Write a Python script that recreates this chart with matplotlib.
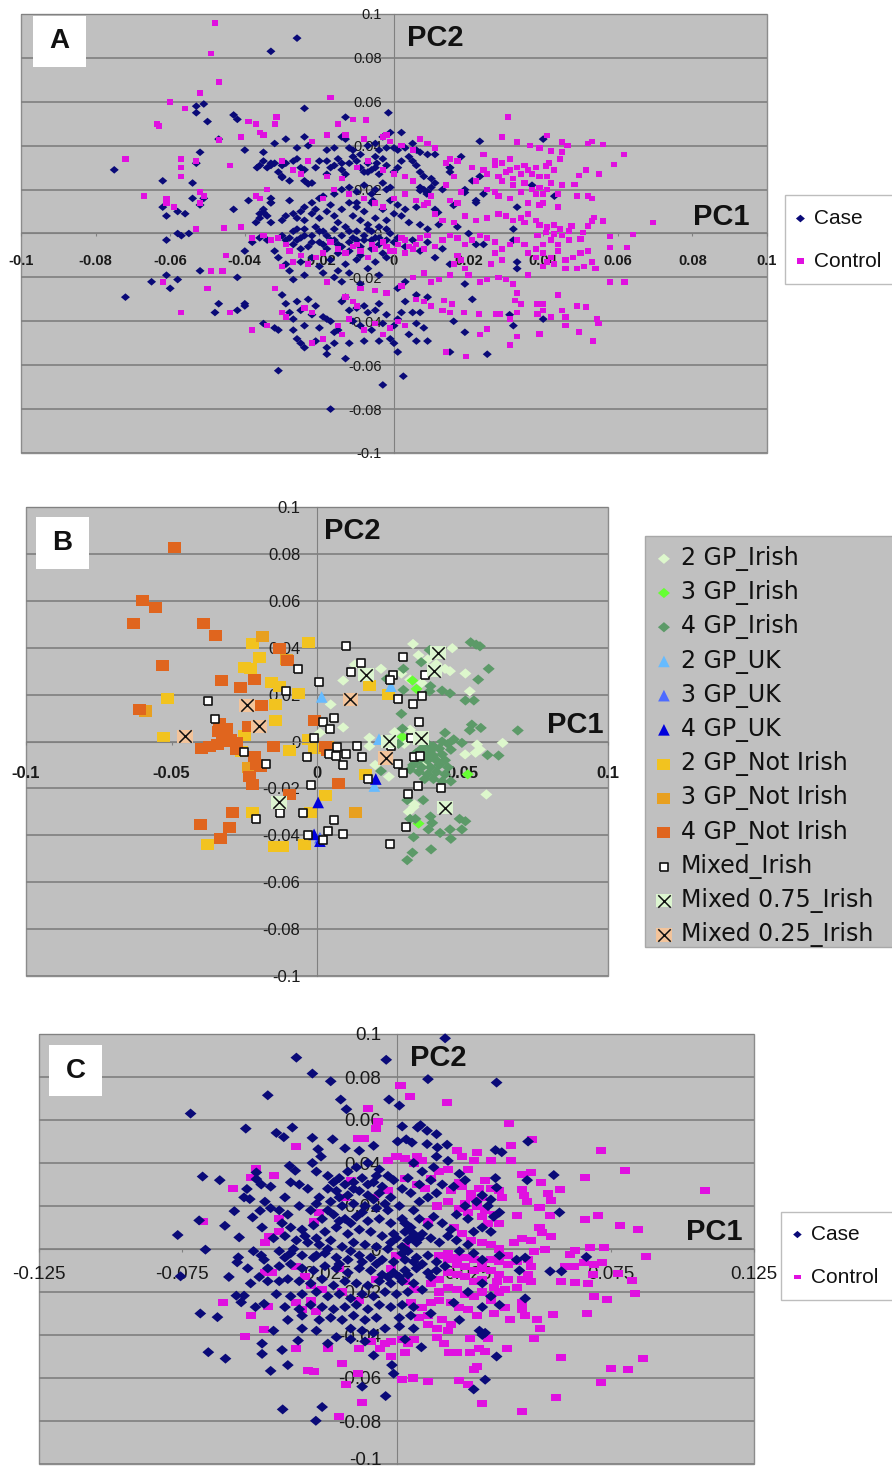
import matplotlib
matplotlib.use("Agg")
import matplotlib.pyplot as plt
import numpy as np
from matplotlib.legend_handler import HandlerTuple
from matplotlib.patches import Rectangle
from matplotlib.transforms import ScaledTranslation

plt.rcParams['font.family'] = ['Liberation Sans', 'DejaVu Sans']

# all points are (PC1, PC2), in thousandths
a_case = [
(-26,89),(-33,83),(-24,57),(-51,59),(-53,58),(-53,55),(-50,51),(-43,54),(-42,52),(-13,53),(-1.5,55),(-47,43),
(-52,37),(-53,32),(-75,29),(-62,24),(-54,23),(-62,12),(-61,8),(-58,10),(-56,9),(-54,16),(-51,16),(-52,13),
(-43,11),(-39,15),(-61,-3),(-58,0),(-57,-1),(-55,0),(-52,-17),(-61,-19),(-65,-22),(-58,-21),(-60,-25),(-72,-29),
(-47,-32),(-48,-36),(-42,-35),(-40,-32),(-40,-33),(-42,-20),(-31,-62.5),(-17,-80),(-3,-69),(2.5,-65),(-18,-55),(-13,-57),
(15,-54),(25,-55),(32,-42),(19,-45),(21,-30),(16,-40),(40,43),(23,42),(18,35),
(-40,38),(-35,37),(-32,41),(-29,43),(-26,39),(-24,44),(-23,40),(-18,38),(-16,39),(-14,44),(-13,43),(-12,39),(-11,38),
(-9,36),(-7,40),(-5,41),(-3,44),(-1,46),(2,46),(-4,38),(-2,39),(0,39),(1,38),(3,39),(5,41),(6,38),(7,37),(9,36),(11,36),
(-36,31),(-35,33),(-34,30),(-33,32),(-32,32),(-30,31),(-29,32),(-31,28),(-30,26),(-28,24),(-27,33),(-26,34),(-25,30),
(-24,29),(-24,24),(-22,23),(-21,30),(-20,33),(-18,33),(-17,30),(-16,31),(-15,34),(-14,32),(-14,29),(-13,27),(-12,32),
(-11,35),(-10,33),(-9,30),(-8,28),(-7,32),(-6,29),(-5,35),(-5,30),(-4,27),(-3,34),(-2,31),(0,28),(1,30),(2,33),(4,35),
(5,33),(6,31),(7,28),(8,26),(10,25),(10,21),(11,23),(7,21),(8,20),(9,19),(13,20),(19,20),(21,24),(23,26),(24,18),(22,15),
(15,28),(15,30),(-3,23),(-2,20),(-1,21),(-5,20),(-8,22),(-6,18),(-10,19),(-12,21),(-14,20),(-16,18),(-19,17),(-20,16),
(-22,14),(-24,12),(-25,10),(-28,15),(-33,16),(-33,14),(-35,11),(-36,9),(-36,7),(-37,5),(-34,8),(-33,5),(-30,6),(-29,8),
(-27,9),(-26,7),(-24,6),(-22,9),(-21,11),(-20,7),(-18,10),(-17,13),(-16,8),(-15,5),(-14,11),(-12,14),(-11,8),(-10,12),
(-9,6),(-8,10),(-7,4),(-6,14),(-5,7),(-4,3),(-3,11),(-2,6),(-1,15),(0,9),(1,13),(2,8),(3,11),(4,5),(6,12),(7,4),(9,2),
(11,11),(12,4),(17,3),(20,0),(22,-5),(24,-5),(-40,-8),(-38,-4),(-36,-2),(-34,-3),(-32,-8),(-31,-11),(-30,-1),(-28,-2),
(-27,1),(-26,-3),(-25,-2),(-24,2),(-23,-6),(-22,-1),(-21,3),(-20,-4),(-19,1),(-18,-7),(-17,-3),(-16,2),(-15,-5),(-14,-1),
(-13,3),(-12,-8),(-11,-2),(-10,1),(-9,-6),(-8,-3),(-7,2),(-6,-7),(-5,-2),(-4,-5),(-3,-9),(-2,-3),(-1,0),(1,-2),(3,-6),
(5,-3),(7,-8),(9,-4),(11,-11),(13,-7),(15,-14),(-29,-14),(-28,-17),(-27,-21),(-25,-13),(-24,-19),(-22,-11),(-20,-15),
(-19,-18),(-17,-12),(-16,-20),(-15,-17),(-14,-22),(-13,-14),(-12,-18),(-10,-12),(-9,-23),(-7,-16),(-5,-13),(-4,-19),
(-2,-11),(1,-25),(3,-22),(6,-28),(9,-29),(19,-23),(33,-13),(33,-16),(32,-3),(32,2),(33,12),(-30,-28),(-29,-32),(-28,-36),
(-27,-39),(-26,-31),(-25,-35),(-24,-42),(-23,-30),(-22,-37),(-21,-33),(-20,-43),(-19,-38),(-18,-39),(-17,-40),(-16,-45),
(-15,-44),(-14,-31),(-13,-29),(-12,-35),(-11,-40),(-10,-34),(-9,-42),(-8,-33),(-7,-36),(-6,-44),(-5,-35),(-4,-32),(-3,-41),
(-2,-37),(-1,-48),(0,-42),(1,-39),(2,-36),(3,-31),(4,-46),(5,-36),(6,-41),(7,-36),(8,-43),(9,-49),(-35,-41),(-32,-43),
(-31,-44),(-27,-44),(-26,-48),(-25,-50),(-24,-52),(-21,-49),(-18,-52),(-16,-50),(-12,-50),(-8,-49),(-4,-49),(0,-50),(1,-54),(6,-49),
(40,-39),(31,-37),(37,22),(43,17),
(-36.7,30),(-33,31),(-30,25.5),(-33,14),(-35,9.6),(-23,22.6),(-18,27),(-7,28),(-4.6,32),(-10,14),(-5.6,15),(7,19.6),(8.8,18),(11.8,9.6),(15,30),
(19,18.7),(22,14),(16,12.8),(-26,2),(-24,-1),(-22,-4),(-20,1),(-18,-1),(-16,-3),(-14,-6),(-12,-4),(-12,1),(-10,-3),(-8,-1),(-6,1),(-4,-2),(-2,2),(0,-4),
(-27,-5),(-29,-3),(-25,-7),(-19,-5),(-15,-9),(-9,-10),(-6,-3),
]
a_control = [
(-48,96),(-49,82),(-47,69),(-52,64),(-60,60),(-56,57),(-63.5,50),(-63,49),(-72,34),(-57,34),(-53,33),(-57,30),(-57,26),
(-67,17),(-61,16),(-61,14),(-59,12),(-52,19),(-51,17),(-52,14),(-53,2),(-45.5,2.5),(-44,31),(-47,42.5),(-41,44),(-39,51),
(-37,50),(-31.5,53),(-32,50),(-36,46),(-35,45),(-17,62),(-11,52),(-7.5,51.6),(-15,50),(30.5,53),(29,44),(33,41.6),(36.5,40),
(39,39),(41,44.6),(45,41.6),(46.5,40),(52,41),(53,42),(56,40.5),(61.7,36),(59,31.5),(55,27),(51.5,29),(49.5,26.5),(48.4,22.4),
(45,22),(44.6,34),(45,37),(42,37.5),(41.5,32),(40.8,30.7),(69.5,5),(64,-0.5),(62.4,-6.4),(58,-22),(61.8,-22),(58,-6.4),(58,-1.4),
(56,5.7),(53.7,7.3),(53,5.7),(52,3.5),(50.7,.5),(50,-2.6),(47.6,3.5),(47,1.2),(44.6,2),(43,-.3),(40.8,.5),(38.5,-1),
(54.5,-39),(54.8,-41),(53.4,-49),(49.6,-45),(49,-33),(51.5,-33.6),(46,-38),(46,-42),(45,-35),(44,-28),(42,-38),(40,-32),(38.5,-32),
(40,-35),(38.5,-36.6),(39,-45.7),(33,-47),(31,-50.7),(25,-43.4),(23,-46),(19.4,-56),(14,-54),(28.5,-36.6),(27.3,-36.6),(31,-39),
(33,-36),(32.4,-30.5),(34,-32),(22.7,-36.6),(18.8,-36),(15,-36),(15.6,-32),(13.3,-30.5),
(24,29),(25,27),(27,31),(28,26),(29,24),(29,32),(30,28),(31,34),(31,29),(32,25),(32,22),(33,30),(34,27),(34,19),(35,31),(35,23),
(36,29),(37,27),(37,20),(38,30),(38,18),(39,26),(39,21),(40,18),(41,20),(41,26),(42,23),(43,29),(44,18),(25,20),(27,19),(28,17),
(31,16),(36,14),(39,13),(40,14),(44,12),(49,17),(52,17),(53,16),(24,36),(27,33),(21,30),(22,24),(17,33),(15,34),(11,39),(9,41),(7,43),
(-1,42),(-2,45),(-3,44),(2,40),(5,38),(-8,43),(-13,45),(-18,45),(-22,42),(14,32),(14,22),(15,15),(17,14),(18,19),(16,26),(9,14),(10,17),
(5,24),(3,26),(0,27),(-3,29),(-7,33),(-10,30),(-14,25),(-18,26),(-23,33),(-27,29),(-25,27),(-30,33),(-34,20),(-37,17),(-36,16),
(-19,16),(-16,20),(-12,18),(-8,16),(-5,14),(-3,12),(0,16),(3,18),(6,15),(8,13),(11,9),(13,6),(16,5),(19,8),(22,6),(25,7),(28,9),(30,8),
(32,6),(34,7),(35,5),(36,9),(38,6),(39,4),(41,3),(43,4),(45,-1),(47,-3),(44,-5),(42,-3),(40,-5),(38,-7),(40,-9),(42,-11),(44,-8),
(46,-12),(48,-11),(50,-9),(52,-8),(53,-13),(54,-16),(51,-15),(49,-16),(46,-16),(43,-14),(40,-15),(41,-13),(38,-11),(36,-9),(35,-5),
(33,-3),(31,-5),(29,-7),(27,-9),(29,-12),(26,-14),(27,-4),(25,-2),(23,-1),(21,-3),(19,-5),(17,-2),(15,-1),(13,-3),(11,-6),(9,-1),
(7,-2),(5,-7),(3,-3),(1,-5),(-1,-8),(-3,-4),(-5,-7),(-7,-11),(-9,-8),(-11,-6),(-13,-9),(-15,-7),(-17,-4),(-19,-9),(-21,-11),(-23,-14),
(-25,-10),(-27,-13),(-29,-5),(-31,-2),(-33,-3),(-35,-1),(-38,-2),(-41,3),(-46,-17),(-45,-10),(-32,-25),(-30,-15),(-28,-8),
(17,-10),(16,-14),(18,-12),(19,-16),(15,-19),(20,-19),(23,-22),(25,-21),(28,-20),(30,-21),(32,-23),(36,-19),(33,-27),(12,-21),(10,-22),
(8,-18),(5,-20),(2,-24),(-2,-27),(-5,-26),(-9,-25),(-11,-31),(-13,-29),(-18,-22),(-29,-38),(-30,-36),(-38,-44),(-34,-42),(-22,-50),
(-19,-48),(-15,-42),(-14,-46),(-12,-39),(-8,-44),(-5,-41),(-3,-46),(-1,-43),(1,-40),(3,-42),(-10,-33),(-24,-34),(-22,-36),(-44,-36),(-57,-36),(-50,-25),(-49,-17),(-62,-22),
(10,-33),(13,-35),(8,-31),(6,-30),(2,-2),(4,-6),(-2,-6),(-6,-5),(-10,-5),(0,-8),(3,-9),(6,-5),(8,-7),
]
b_ir2 = [(33,41.6),(46.5,39.8),(34.9,36.8),(9,26),(13,32.8),(22,31),(32,26.4),(45.7,30),(44,31),(51,29),(52.5,21.4),(4.7,15.8),(9,6),
(18,1.6),(18,-2),(26.7,4),(1,3.7),(32,5),(55,-1.3),(56,-3.4),(54.5,-4.8),(63.8,-.6),(50.9,-5.5),(58.2,-22.6),(24.7,-15),(20,-10),
(33.5,-26.8),(31.5,-30),(33.2,-28),(29,29),(36,25),(38,35),(41,33),(30,-1),(36,-10)]
b_ir3 = [(32.8,26),(34.2,22.4),(29.4,2),(51.8,-14),(34.9,-35)]
b_ir4 = [(52.8,42.3),(54.7,41.3),(56,40.6),(59,31),(55.4,26.4),(38.7,39),(35.8,33.8),(29.7,31),(24,26.7),(29.7,22),(39,23.6),(38.7,21.4),
(43,21.7),(45.7,20.5),(51,17.5),(53.9,17.5),(29,11.8),(29.4,5.5),(53.2,7.2),(52.5,4.8),(56.3,5.8),(69,4.7),(44,3.7),(47,.9),(49.8,-.6),
(58.6,-5.8),(62.4,-6),(36.5,-25),(39,-32),(33.8,-33),(39.6,-34.7),(38.3,-37.5),(42.3,-39),(46,-41.5),(45.7,-37.5),(49,-33),(51,-34),
(49.8,-37.5),(33.2,-40.8),(39.2,-46),(32.8,-47.4),(31,-50.6),(22,-12.6),(38,-1),(40,-2),(43,0),(45,-1),(36,-3),(39,-4),(42,-3),(46,-3.5),
(34,-5),(37,-6),(40,-6),(43,-5.5),(35,-8),(38,-8),(41,-8),(44,-8),(33,-10),(36,-11),(39,-11),(42,-10),(45,-11),(35,-13),(38,-14),(41,-13),
(44,-14),(37,-16),(40,-16),(43,-17),(46,-17),(32,-12),(31,-25),(32,-33),(28,-1)]
b_uk2 = [(1.6,19),(21.3,1),(19.7,-19),(25.4,23.6)]
b_uk3 = [(1,-41)]
b_uk4 = [(20.2,-16),(.4,-26),(-1,-39.6),(1,-42.5)]
b_no2 = [(-3,42.3),(-22,41.8),(-19.7,35.7),(-25,31.7),(-22.8,31),(-51.3,18.2),(-15.6,25),(-13,23.6),(-14.2,15.8),(-6.5,20.5),(-14.4,9),
(-52.8,1.8),(-24.8,2.6),(-2.8,1),(-.8,-3),(-9.5,-4),(-26,-4.4),(-23.5,-11),(16.5,-14),(3,-23),(18,24),(24.7,20),(-22,-30.4),(-2.4,-30.4),
(-37.7,-44),(-14.6,-44.6),(-12,-44.6),(-4.3,-44)]
b_no3 = [(-18.7,44.7),(-58.8,13),(13.2,-30.4),(-10.6,35),(3.7,-2),(-23.5,-11)]
b_no4 = [(-49,82.7),(-60,60),(-55.6,57),(-63,50.4),(-39,50.4),(-35,45.3),(-53,32.5),(-32.7,26),(-26.3,23),(-21.4,26.4),(-61,13.6),(-19,15.3),
(-10,34.6),(-13,39.5),(-1,9),(-33.6,7.5),(-31,5.4),(-34,4.4),(-23.5,6.2),(-39.8,-3),(-37,-2),(-34.3,-1.3),(-32.3,0),(-29.6,.8),(-27.5,-.6),
(-27.5,-3.4),(-21.4,-6.2),(-20.8,-9.8),(-19.4,-10.5),(-23.2,-14.8),(-22,-18.3),(-14.8,-2.3),(3,-2),(3.7,-4),(7.5,-18),(-29,-30.4),(-40,-35.5),
(-30,-36.5),(-33,-41.3),(-9.5,-22.6)]
b_mixed = [(9.8,40.6),(15,33.5),(29.7,36),(-6.5,31),(11.8,29.5),(.7,25.3),(26.2,28.3),(25,26.4),(37,28.3),(-10.6,21.7),(-37.3,17.2),(28,18.3),
(36.2,19.3),(33,15.8),(-35,9.4),(6,10),(2,8.4),(4.3,5.4),(35,8.2),(-1,1.3),(32.4,1.3),(7,-2.4),(13.6,-2),(-25,-4.4),(4,-5.5),(6.6,-6.2),
(10,-5.5),(15.6,-6.5),(-3.5,-6.8),(33.2,-6.5),(35.5,-6),(25.6,-2),(-17.5,-9.5),(9,-10),(27.8,-9.5),(29.4,-13.4),(17.5,-16.2),(-1.9,-18.5),
(34.6,-18.9),(42.6,-19.7),(31.3,-22.3),(-4.9,-30.4),(-12.8,-30.4),(-21,-33),(6,-33.5),(3.8,-38.2),(8.8,-39.5),(-3.1,-40),(1.9,-42),(25,-43.8),(30.7,-36.4)]
b_mix75 = [(-13,-26),(16.8,28.5),(24.7,.1),(35.8,1.5),(40.3,30.2),(41.6,37.8),(44,-28.3)]
b_mix25 = [(-45.3,2.3),(-24,15.5),(-20,6.5),(11.5,18),(23.6,-7)]
c_case = [
(17,98),(-35,89),(-3.6,88),(-29.4,81.6),(-23,78),(11,79),(35,77.4),(-45,71.5),(-19.5,69.5),(-2.6,69.5),(1,66.7),(-17.5,65),(-72,63),
(-52.7,56),(-36.4,56.5),(-42,54),(-39.4,52),(-29.4,51.7),(-22.3,51),(2,57),(8.4,57.6),(7.4,56.5),(10.7,55),(14,53.4),(3.4,51),(.4,50),
(5.4,49.5),(10.7,48.8),(14.3,47.2),(17.7,48.5),(46,50),(34.6,46),(36.8,45),(-8,48),(-18,46.8),(-13,45.7),(-27.4,46.4),(-26.4,43),(-29.4,40),
(-37.4,38.7),(-35.4,36.4),(-67.8,33.7),(-61.8,32),(-49,35.6),(-49,32.5),(-47.3,30),(-52.3,27.9),(-53.3,24),(-51.3,23.2),(55,34.4),(45.7,32),
(57,17),(34.6,33),(35,28.6),(-76.5,6.5),(-69,13.3),(-60,10.8),(-55,5.4),(-66.8,-.3),(-56.7,17.6),(-50.3,14.7),(-47.7,17.8),(-75.5,-12.7),
(-58.6,-13),(-55.3,-3.9),(-55.7,-6.2),(-47.3,-3),(-46.3,-5),(-68.6,-30),(-62.6,-31.7),(-56,-21.7),(-53.3,-21.7),(-54.3,-24.8),(-49.3,-27),
(-46.3,-25.5),(-65.8,-48),(-59.8,-51),(-47,-44),(-47,-48.8),(-40,-47),(-34.4,-42.6),(-44,-56.7),(-38,-54),(-39.8,-74.6),(-26,-73.5),(-28.2,-79.9),
(-3.8,-68.4),(-12,-64),(-1.6,-54),(-1,-58),(-8,-49.5),(31,-60.8),(27,-65.3),(35,-50),(8.7,-45.7),(30,-40),(29,-38),(31,-39),(53.7,-10.4),(57.7,-10.4),(66.4,-3.7),
(-28,36),(-24,34),(-20,33),(-17,36),(-14,38),(-10,40),(-6,37),(-3,34),(-18,30),(-15,31),(-12,33),(-8,31),(-5,29),(-1,32),(-24,28),(-21,27),(-17,25),
(-13,27),(-10,25),(-6,26),(-2,24),(-34,30),(-31,28),(-27,24),(-23,22),(-19,20),(-15,21),(-11,20),(-7,19),(-3,18),(1,20),(-41,18),(-38,16),(-34,20),
(-30,18),(-26,14),(-22,16),(-18,14),(-14,15),(-10,13),(-6,14),(-2,12),(2,14),(6,18),(8,14),(11,11),(13,15),(16,12),(19,9),(-40,12),(-37,10),(-33,9),(-29,11),
(-25,8),(-21,10),(-17,7),(-13,9),(-9,8),(-5,6),(-1,7),(3,8),(5,5),(7,3),(9,7),(12,5),(15,3),(18,6),(21,4),(-43,5),(-39,6),(-35,4),(-31,3),(-27,2),(-23,4),
(-19,1),(-15,3),(-11,2),(-7,1),(-3,0),(2,1),(4,-1),(-41,-1),(-37,-2),(-33,-3),(-29,-4),(-25,-2),(-21,-4),(-17,-5),(-13,-3),(-9,-4),(-5,-5),(-1,-6),(3,-5),
(7,-4),(11,-3),(14,-6),(17,-8),(-45,-9),(-41,-8),(-37,-7),(-33,-9),(-29,-10),(-25,-8),(-21,-9),(-17,-11),(-13,-9),(-9,-10),(-5,-12),(-1,-11),(3,-10),(7,-9),
(11,-11),(14,-10),(12,-13),(-41,-15),(-38,-14),(-34,-15),(-30,-16),(-26,-14),(-22,-17),(-18,-15),(-14,-16),(-10,-17),(-6,-15),(-2,-16),(2,-15),(6,-16),(9,-19),
(-42,-21),(-37,-22),(-33,-21),(-28,-20),(-24,-22),(-20,-21),(-16,-23),(-12,-21),(-8,-22),(-4,-20),(0,-21),(4,-20),(-39,-27),(-34,-28),(-30,-26),(-26,-27),
(-22,-28),(-18,-27),(-14,-26),(-10,-28),(-6,-26),(-2,-27),(2,-26),(6,-27),(-38,-33),(-33,-31),(-27,-33),(-23,-32),(-19,-33),(-15,-31),(-11,-33),(-7,-32),(1,-32),
(5,-31),(12,-30),(22,-33),(-43,-38),(-33,-37),(-28,-38),(-16,-37),(-12,-38),(-8,-39),(-4,-37),(1,-36),(6,-37),(-24,-44),(-21,-41),(-16,-42),(-11,-43),(3,-42),
(20,-25),(25,-20),(30,-16),(36,-26),(30,-27),(33,-22),(45,-23),(43,-10),(45,-4),(42,-5),(36,-3),(30,-5),(27,-2),(25,2),(22,-1),(33,8),(34,15),(30,10),
(27,8),(25,14),(36,17),(32,20),(28,22),(24,20),(21,16),(30,25),(33,23),(14,26),(11,24),(8,22),(5,26),(2,28),(16,30),(12,32),(8,30),(4,33),(20,29),(24,32),
(13,38),(9,36),(6,40),(18,41),(14,43),(22,35),(-28,-3),(-44,19),(-44,29),(-39,24),(-37,31),(-46,22),(-47,10),(-45,-15),(-48,-13),(-52,-9),(-50,-1),(-51,-16),
(4,4),(6,7),(8,5),(5,10),(3,12),(0,5),(-2,3),(2,-2),(6,-6),(9,-7),(4,-12),(1,-13),(-3,-13),(-7,-7),(-12,-6),(-16,-1),(-20,-7),(-24,0),(-28,5),(-32,6),(-36,0),(-39,-4),
(-16,12),(-20,13),(-24,18),(-28,21),(-12,17),(-8,23),(-4,21),(-20,24),(-15,28),(-10,30),(-22,31),(-7,34),
]
c_control = [
(1.4,75.9),(4.8,70.9),(17.7,68),(-10,65.5),(-6.6,59.3),(-7,56),(39.4,58.5),(-13.5,51.4),(-11.5,51.4),(47.5,50.8),(40,48),(-35,47.7),(71.6,46),
(80,36.5),(66,33.4),(107.8,27),(57,27.8),(53,26),(54,22.4),(50,19.3),(44,34.8),(47,35.6),(50.5,31),(44,27.5),(44.5,24.8),(45.7,22),(42,15.5),(53.7,15.5),
(66,13.6),(70.4,15.8),(78,10.8),(84.5,9),(50,10),(51,7.7),(54,5.7),(67.6,.5),(72.6,.5),(62.4,-.8),(60.6,-2.6),(52,-.3),(87.3,-3.6),(59,-8.2),(62,-8.2),
(65.6,-6.2),(69,-7),(72,-6.5),(77.5,-11.6),(68.6,-12),(82.3,-14.7),(57.6,-15),(62.4,-15.8),(67,-16),(83.3,-20.9),(69,-22),(73.6,-23.7),(66.6,-30),(54.7,-30.3),
(49,-33),(50.3,-37),(48,-41.8),(39.6,-33),(38.8,-46.4),(57.6,-50.3),(86.3,-51),(75,-55.4),(81,-56),(71.6,-62),(55.7,-69),(30,-71.7),(44,-75.4),(-12,-71.4),
(-20,-77.9),(-17.5,-63),(-13.3,-58),(-30.8,-56.5),(-28.8,-57),(-19,-53.4),(1.8,-60.7),(5.8,-60),(11,-61.6),(22,-61),(25,-62.8),(27,-56),(28,-54.5),
(18.3,-48),(21,-48),(25.8,-48),(29,-46.4),(31,-47.5),(16.7,-44),(25.8,-41.8),(32,-41.8),(-53,-40.7),(-46.3,-37.6),(-51,-31),(-60.6,-25),(-35,-25),(-45,-26.6),
(-49,37.5),(-51,33.3),(-42.7,34),(-57,28),(-67.8,13),(-41,14),(-44.7,6),(-46,2.8),(-41,8),(-46,-10.8),(-43.7,-10.8),(-35,-46.4),(-24,-46.4),(-13,-46.4),(-5.6,-46.4),
(-2,-50),(3,-48),(-4,-44),(-2,-43),(2,-42),(4,-44),(6,-42),(-9,-43),
(-3,41),(0,43),(3,42),(6,40),(7,43),(9,41),(21,46),(23,43),(28,45),(27,41),(33,41),(40,41),(25,37),(31,32),(22,31),(18,37),(15,36),(12,33),(19,27),(23,29),(26,26),
(29,28),(26,24),(24,21),(30,24),(28,20),(33,28),(36,27),(37,24),(31,18),(34,16),(36,12),(32,12),(30,15),(25,17),(22,19),(18,22),(14,20),(10,28),(7,30),(3,33),(-3,27),
(-8,24),(-16,32),(-18,24),(-27,17),(-29,13),(-20,-9),(-35,-8),(-32,-13),(-30,-17),(-26,-19),(-30,-24),(-28,-29),(-33,-28),(-19,-20),(-13,-24),(-7,-14),
(20,10),(23,7),(26,4),(30,3),(33,2),(36,0),(39,-3),(41,3),(44,5),(47,4),(48,-1),(46,-5),(47,-8),(46,-12),(44,-14),(47,-15),(42,-6),(39,-7),(36,-6),(33,-5),(30,-7),(27,-5),
(24,-4),(21,-4),(18,-2),(15,-3),(18,-5),(21,-7),(24,-8),(27,-10),(30,-9),(33,-10),(36,-12),(39,-14),(42,-18),(38,-19),(35,-15),(36,-20),(34,-18),(30,-14),(27,-15),(24,-13),
(21,-12),(18,-11),(15,-14),(12,-16),(15,-20),(18,-18),(21,-19),(24,-21),(27,-22),(30,-20),(33,-24),(44,-25),(44,-28),(45,-31),(38,-27),(34,-30),(28,-31),(25,-28),(22,-27),
(19,-25),(15,-24),(12,-25),(9,-27),(5,-25),(8,-32),(11,-35),(14,-37),(16,-33),(18,-38),(19,-35),(14,-41),(11,-31),(6,-19),(3,-15),(-2,-9),(0,-3),(3,1),(7,6),(11,13),
]

panel_a_pos = (21, 14, 767, 453)
panel_b_pos = (26, 507, 608, 976)
panel_c_pos = (39, 1034, 754, 1464)
W, H = 892, 1468
GRAY = '#c0c0c0'
GRID = '#7f7f7f'
TXT = '#1a1a1a'
NAVY = '#0a0a78'
MAG = '#e010e0'

fig = plt.figure(figsize=(W/100, H/100), dpi=100, facecolor='white')


def diamond(r):
    return [(-1, 0), (0, r), (1, 0), (0, -r), (-1, 0)]


def box(r):
    return [(-1, -r), (1, -r), (1, r), (-1, r), (-1, -r)]


def make_axes(pos, xt, xl, x_lim, size, xweight, xpad, ypad):
    l, t, r, b = pos
    ax = fig.add_axes([l/W, 1-b/H, (r-l)/W, (b-t)/H])
    ax.set_facecolor(GRAY)
    ax.set_xlim(-x_lim, x_lim)
    ax.set_ylim(-0.1, 0.1)
    ax.set_axisbelow(True)
    for s in ('top', 'right'):
        ax.spines[s].set_visible(False)
    for s in ('left', 'bottom'):
        ax.spines[s].set_position('zero')
        ax.spines[s].set_color('#808080')
        ax.spines[s].set_linewidth(0.8)
    ax.patch.set_edgecolor('#8c8c8c')
    ax.patch.set_linewidth(1.0)
    yt = [-0.1, -0.08, -0.06, -0.04, -0.02, 0, 0.02, 0.04, 0.06, 0.08, 0.1]
    ax.set_yticks(yt)
    ax.set_yticklabels(['-0.1', '-0.08', '-0.06', '-0.04', '-0.02', '0', '0.02', '0.04', '0.06', '0.08', '0.1'])
    ax.set_xticks(xt)
    ax.set_xticklabels(xl)
    ax.grid(axis='y', color=GRID, linewidth=1.2)
    ax.tick_params(axis='y', length=0, pad=ypad, labelsize=size, labelcolor=TXT)
    ax.tick_params(axis='x', length=2.5, color='#808080', pad=xpad, labelsize=size, labelcolor=TXT)
    for t_ in ax.get_xticklabels():
        t_.set_fontweight(xweight)
    return ax


def plot(ax, pts, marker, size, color, label, z, edge='none', lw=0.0):
    p = np.array(pts) / 1000.0
    return ax.scatter(p[:, 0], p[:, 1], marker=marker, s=size, c=color, edgecolors=edge,
                      linewidths=lw, label=label, zorder=z, clip_on=False)


def tag(px, py, txt, size):
    fig.text(px/W, 1-py/H, txt, fontsize=size, fontweight='bold', color='#111111',
             ha='center', va='center', zorder=10)


def panel_box(l, t, r, b, face, edge='none'):
    # sits behind the axes, the frameless legends draw on top of it
    fig.add_artist(Rectangle((l/W, 1-b/H), (r-l)/W, (b-t)/H, transform=fig.transFigure,
                             facecolor=face, edgecolor=edge, linewidth=1.0, zorder=-1))


def letter(l, t, r, b, txt):
    fig.add_artist(Rectangle((l/W, 1-b/H), (r-l)/W, (b-t)/H, transform=fig.transFigure,
                             facecolor='white', edgecolor='none', zorder=9))
    tag((l+r)/2, (t+b)/2, txt, 20)


def small_legend(ax, handles, px, py):
    ax.legend(handles=handles, loc='upper left', bbox_to_anchor=(px/W, 1-py/H), bbox_transform=fig.transFigure,
              borderaxespad=0, borderpad=0, fontsize=15, labelspacing=1.14, handletextpad=0.15,
              handlelength=1.0, frameon=False, labelcolor='#111111')


# panel A
panel_box(785, 195, 900, 284, 'white', '#bdbdbd')
ax_a = make_axes(panel_a_pos, [-0.1, -0.08, -0.06, -0.04, -0.02, 0, 0.02, 0.04, 0.06, 0.08, 0.1],
                 ['-0.1', '-0.08', '-0.06', '-0.04', '-0.02', '0', '0.02', '0.04', '0.06', '0.08', '0.1'],
                 0.1, 10.5, 'bold', 12, 9)
h1 = plot(ax_a, a_case, diamond(0.85), 42, NAVY, 'Case', 3)
h2 = plot(ax_a, a_control, box(0.9), 20, MAG, 'Control', 4)
small_legend(ax_a, [h1, h2], 790, 209)
letter(33, 16, 86, 67, 'A')
tag(435, 38, 'PC2', 21)
tag(721, 217, 'PC1', 21)

# panel B
panel_box(645, 536, 900, 947, GRAY, '#a8a8a8')
ax_b = make_axes(panel_b_pos, [-0.1, -0.05, 0, 0.05, 0.1], ['-0.1', '-0.05', '0', '0.05', '0.1'],
                 0.1, 12, 'bold', 15, 12)
hb = [
    plot(ax_b, b_ir2, diamond(0.85), 75, '#ddf7cc', '2 GP_Irish', 3),
    plot(ax_b, b_ir3, diamond(0.85), 75, '#66ff33', '3 GP_Irish', 4),
    plot(ax_b, b_ir4, diamond(0.85), 75, '#5c9a68', '4 GP_Irish', 5),
    plot(ax_b, b_uk2, '^', 70, '#66bbff', '2 GP_UK', 6),
    plot(ax_b, b_uk3, '^', 70, '#4d6bff', '3 GP_UK', 7),
    plot(ax_b, b_uk4, '^', 70, '#0000dd', '4 GP_UK', 8),
    plot(ax_b, b_no2, box(0.85), 88, '#f2c31f', '2 GP_Not Irish', 2.5),
    plot(ax_b, b_no3, box(0.85), 88, '#e8a020', '3 GP_Not Irish', 2.6),
    plot(ax_b, b_no4, box(0.85), 88, '#e0651e', '4 GP_Not Irish', 2.7),
    plot(ax_b, b_mixed, box(0.9), 38, 'white', 'Mixed_Irish', 9, edge='#111111', lw=1.2),
]
# crossed markers sit on a pale square
s75 = plot(ax_b, b_mix75, box(0.85), 125, '#dcf5d0', None, 9.5)
s25 = plot(ax_b, b_mix25, box(0.85), 125, '#f3c49b', None, 9.5)
x75 = plot(ax_b, b_mix75, 'x', 80, '#111111', None, 10, edge='face', lw=1.1)
x25 = plot(ax_b, b_mix25, 'x', 80, '#111111', None, 10, edge='face', lw=1.1)
ax_b.legend(handles=hb + [(s75, x75), (s25, x25)],
            labels=[h.get_label() for h in hb] + ['Mixed 0.75_Irish', 'Mixed 0.25_Irish'],
            handler_map={tuple: HandlerTuple(ndivide=1, pad=0)},
            loc='upper left', bbox_to_anchor=(650/W, 1-546/H), bbox_transform=fig.transFigure,
            borderaxespad=0, borderpad=0, labelspacing=0.39, handletextpad=0.12,
            handlelength=1.18, frameon=False, prop={'family': 'DejaVu Sans', 'size': 17}, labelcolor='#111111')
letter(36, 517, 89, 569, 'B')
tag(352, 531, 'PC2', 21)
tag(575, 725, 'PC1', 21)

# panel C
panel_box(781, 1212, 900, 1300, 'white', '#bdbdbd')
ax_c = make_axes(panel_c_pos, [-0.125, -0.075, -0.025, 0.025, 0.075, 0.125],
                 ['-0.125', '-0.075', '-0.025', '0.025', '0.075', '0.125'],
                 0.125, 13.5, 'normal', 10, 11)
h4 = plot(ax_c, c_control, box(0.7), 52, MAG, 'Control', 3)
h3 = plot(ax_c, c_case, diamond(0.85), 72, NAVY, 'Case', 4)
small_legend(ax_c, [h3, h4], 787, 1225)
for h in ax_c.get_legend().legend_handles:
    h.set_sizes([38 if h.get_label() == 'Case' else 20])
# the lowest label sits at the picture's edge, nudged up so that it stays whole
low = ax_c.get_yticklabels()[0]
low.set_transform(low.get_transform() + ScaledTranslation(0, 4/72, fig.dpi_scale_trans))
letter(49, 1045, 102, 1096, 'C')
tag(438, 1058, 'PC2', 21)
tag(714, 1232, 'PC1', 21)

fig.savefig('out.png', dpi=100)
plt.close(fig)
